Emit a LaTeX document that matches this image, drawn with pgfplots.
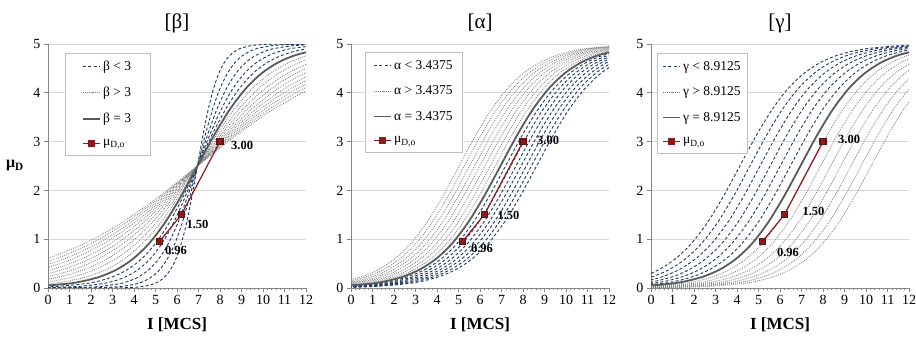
\documentclass[border=0pt]{standalone}
\usepackage{fontspec}
\setmainfont{Liberation Serif}
\usepackage{pgfplots}
\pgfplotsset{compat=1.18}
\definecolor{navy}{HTML}{1F3864}
\definecolor{dotgray}{HTML}{7F7F7F}
\definecolor{solgray}{HTML}{5A5A5A}
\definecolor{dred}{HTML}{8B1A1A}
\definecolor{gridgray}{HTML}{D9D9D9}
\definecolor{axgray}{HTML}{868686}
\definecolor{leggray}{HTML}{BFBFBF}
\pgfplotsset{
 base/.style={
  scale only axis, width=258pt, height=244pt,
  xmin=0,xmax=12,ymin=0,ymax=5,
  axis x line*=bottom, axis y line*=left,
  x axis line style={-}, y axis line style={-},
  axis line style={draw=axgray, line width=0.8pt},
  xtick={0,1,...,12}, ytick={0,1,...,5},
  minor x tick num=4,
  tick align=outside, major tick length=4pt, minor tick length=2.5pt,
  tick style={draw=axgray, line width=0.6pt},
  ymajorgrids, major grid style={draw=gridgray, line width=0.8pt},
  tick label style={font=\fontsize{14}{16}\selectfont},
  /pgf/number format/assume math mode=true,
  title style={at={(0.5,1)}, anchor=center, yshift=15pt, font=\fontsize{21}{24}\selectfont},
  xlabel={\textbf{I [MCS]}},
  xlabel style={at={(0.5,0)}, anchor=center, yshift=-37pt, font=\fontsize{17}{20}\selectfont},
  legend cell align=left,
  legend style={anchor=north west, draw=leggray, line width=0.6pt, font=\fontsize{13.5}{15}\selectfont, row sep=11pt, inner xsep=8pt, inner ysep=6pt},
 },
 dsh/.style={forget plot, smooth, no markers, color=navy, line width=0.9pt, dash pattern=on 3pt off 2.2pt},
 dt/.style={forget plot, smooth, no markers, color=dotgray, line width=0.9pt, dash pattern=on 0.8pt off 1.2pt},
 sol/.style={forget plot, smooth, no markers, color=solgray, line width=1.8pt},
 obs/.style={forget plot, sharp plot, color=dred, line width=1.2pt, mark=square*, mark size=3pt, mark options={fill=dred, draw=dred!70!black, solid}},
}
\tikzset{lab/.style={font=\bfseries\fontsize{12.5}{14}\selectfont, inner sep=0pt, anchor=west}}
\begin{document}
\begin{tikzpicture}[x=1pt,y=1pt]
\useasboundingbox (0,0) rectangle (916,337);
% ===================== Panel beta =====================
\begin{axis}[base, at={(48pt,49pt)}, anchor=south west, title={[β]},
  ylabel={\textbf{μ\textsubscript{D}}},
  ylabel style={at={(axis description cs:-0.128,0.5)}, anchor=center, rotate=-90, font=\fontsize{16}{18}\selectfont},
  legend style={at={(0.066,0.963)}, inner xsep=17pt}]
\addlegendimage{color=navy, line width=0.9pt, dash pattern=on 3pt off 2.2pt}
\addlegendentry{β < 3}
\addlegendimage{color=dotgray, line width=0.9pt, dash pattern=on 0.8pt off 1.2pt}
\addlegendentry{β > 3}
\addlegendimage{color=solgray, line width=1.8pt}
\addlegendentry{β = 3}
\addlegendimage{color=dred, line width=1.2pt, mark=square*, mark size=3pt, mark options={fill=dred}}
\addlegendentry{μ\textsubscript{D,o}}
% dotted beta > 3
\addplot[dt] coordinates {(-1.55,0.033)(0.15,0.090)(1.0,0.147)(1.85,0.237)(2.7,0.379)(3.55,0.596)(4.4,0.912)(5.25,1.345)(6.1,1.888)(6.95,2.5)(7.8,3.112)(8.65,3.655)(9.5,4.088)(10.35,4.404)(11.2,4.621)(12.05,4.763)};
\addplot[dt] coordinates {(-0.65,0.090)(0.3,0.147)(1.25,0.237)(2.2,0.379)(3.15,0.596)(4.1,0.912)(5.05,1.345)(6.0,1.888)(6.95,2.5)(7.9,3.112)(8.85,3.655)(9.8,4.088)(10.75,4.404)(11.7,4.621)(12.65,4.763)};
\addplot[dt] coordinates {(-0.4,0.147)(0.65,0.237)(1.7,0.379)(2.75,0.596)(3.8,0.912)(4.85,1.345)(5.9,1.888)(6.95,2.5)(8.0,3.112)(9.05,3.655)(10.1,4.088)(11.15,4.404)(12.2,4.621)};
\addplot[dt] coordinates {(-1.1,0.147)(0.05,0.237)(1.2,0.379)(2.35,0.596)(3.5,0.912)(4.65,1.345)(5.8,1.888)(6.95,2.5)(8.1,3.112)(9.25,3.655)(10.4,4.088)(11.55,4.404)(12.7,4.621)};
\addplot[dt] coordinates {(-0.55,0.237)(0.7,0.379)(1.95,0.596)(3.2,0.912)(4.45,1.345)(5.7,1.888)(6.95,2.5)(8.2,3.112)(9.45,3.655)(10.7,4.088)(11.95,4.404)(13.2,4.621)};
\addplot[dt] coordinates {(-1.15,0.237)(0.2,0.379)(1.55,0.596)(2.9,0.912)(4.25,1.345)(5.6,1.888)(6.95,2.5)(8.3,3.112)(9.65,3.655)(11.0,4.088)(12.35,4.404)};
\addplot[dt] coordinates {(-0.3,0.379)(1.15,0.596)(2.6,0.912)(4.05,1.345)(5.5,1.888)(6.95,2.5)(8.4,3.112)(9.85,3.655)(11.3,4.088)(12.75,4.404)};
\addplot[dt] coordinates {(-0.8,0.379)(0.75,0.596)(2.3,0.912)(3.85,1.345)(5.4,1.888)(6.95,2.5)(8.5,3.112)(10.05,3.655)(11.6,4.088)(13.15,4.404)};
\addplot[dt] coordinates {(-1.3,0.379)(0.35,0.596)(2.0,0.912)(3.65,1.345)(5.3,1.888)(6.95,2.5)(8.6,3.112)(10.25,3.655)(11.9,4.088)(13.55,4.404)};
\addplot[dt] coordinates {(-0.05,0.596)(1.7,0.912)(3.45,1.345)(5.2,1.888)(6.95,2.5)(8.7,3.112)(10.45,3.655)(12.2,4.088)};
% dashed beta < 3
\addplot[dsh] coordinates {(-0.05,0)(1.95,0)(2.95,0.002)(3.45,0.005)(3.95,0.012)(4.45,0.033)(4.95,0.090)(5.2,0.147)(5.45,0.237)(5.7,0.379)(5.95,0.596)(6.2,0.912)(6.45,1.345)(6.7,1.888)(6.95,2.5)(7.2,3.112)(7.45,3.655)(7.7,4.088)(7.95,4.404)(8.2,4.621)(8.45,4.763)(8.7,4.853)(8.95,4.910)(9.45,4.967)(9.95,4.988)(10.45,4.995)(10.95,4.998)(11.95,5.0)(13.95,5.0)};
\addplot[dsh] coordinates {(-0.05,0)(1.35,0.002)(2.05,0.005)(2.75,0.012)(3.45,0.033)(4.15,0.090)(4.5,0.147)(4.85,0.237)(5.2,0.379)(5.55,0.596)(5.9,0.912)(6.25,1.345)(6.6,1.888)(6.95,2.5)(7.3,3.112)(7.65,3.655)(8.0,4.088)(8.35,4.404)(8.7,4.621)(9.05,4.763)(9.4,4.853)(9.75,4.910)(10.45,4.967)(11.15,4.988)(11.85,4.995)(12.55,4.998)};
\addplot[dsh] coordinates {(-0.25,0.002)(0.65,0.005)(1.55,0.012)(2.45,0.033)(3.35,0.090)(3.8,0.147)(4.25,0.237)(4.7,0.379)(5.15,0.596)(5.6,0.912)(6.05,1.345)(6.5,1.888)(6.95,2.5)(7.4,3.112)(7.85,3.655)(8.3,4.088)(8.75,4.404)(9.2,4.621)(9.65,4.763)(10.1,4.853)(10.55,4.910)(11.45,4.967)(12.35,4.988)};
\addplot[dsh] coordinates {(-0.75,0.005)(0.35,0.012)(1.45,0.033)(2.55,0.090)(3.1,0.147)(3.65,0.237)(4.2,0.379)(4.75,0.596)(5.3,0.912)(5.85,1.345)(6.4,1.888)(6.95,2.5)(7.5,3.112)(8.05,3.655)(8.6,4.088)(9.15,4.404)(9.7,4.621)(10.25,4.763)(10.8,4.853)(11.35,4.910)(12.45,4.967)};
\addplot[dsh] coordinates {(-0.85,0.012)(0.45,0.033)(1.75,0.090)(2.4,0.147)(3.05,0.237)(3.7,0.379)(4.35,0.596)(5.0,0.912)(5.65,1.345)(6.3,1.888)(6.95,2.5)(7.6,3.112)(8.25,3.655)(8.9,4.088)(9.55,4.404)(10.2,4.621)(10.85,4.763)(11.5,4.853)(12.15,4.910)};
% solid
\addplot[sol] coordinates {(-0.55,0.033)(0.95,0.090)(1.7,0.147)(2.45,0.237)(3.2,0.379)(3.95,0.596)(4.7,0.912)(5.45,1.345)(6.2,1.888)(6.95,2.5)(7.7,3.112)(8.45,3.655)(9.2,4.088)(9.95,4.404)(10.7,4.621)(11.45,4.763)(12.2,4.853)};
\addplot[obs] coordinates {(5.2,0.96)(6.2,1.50)(8,3.00)};
\node[lab, xshift=5pt, yshift=-9pt] at (axis cs:5.2,0.96) {0.96};
\node[lab, xshift=5pt, yshift=-10pt] at (axis cs:6.2,1.50) {1.50};
\node[lab, xshift=11pt, yshift=-4pt] at (axis cs:8,3.00) {3.00};
\end{axis}
% ===================== Panel alpha =====================
\begin{axis}[base, at={(351pt,49pt)}, anchor=south west, title={[α]},
  legend style={at={(0.054,0.967)}}]
\addlegendimage{color=navy, line width=0.9pt, dash pattern=on 3pt off 2.2pt}
\addlegendentry{α < 3.4375}
\addlegendimage{color=dotgray, line width=0.9pt, dash pattern=on 0.8pt off 1.2pt}
\addlegendentry{α > 3.4375}
\addlegendimage{color=solgray, line width=1.8pt}
\addlegendentry{α = 3.4375}
\addlegendimage{color=dred, line width=1.2pt, mark=square*, mark size=3pt, mark options={fill=dred}}
\addlegendentry{μ\textsubscript{D,o}}
\addplot[dt] coordinates {(-0.79,0.033)(0.71,0.090)(1.46,0.147)(2.21,0.237)(2.96,0.379)(3.71,0.596)(4.46,0.912)(5.21,1.345)(5.96,1.888)(6.71,2.5)(7.46,3.112)(8.21,3.655)(8.96,4.088)(9.71,4.404)(10.46,4.621)(11.21,4.763)(11.96,4.853)(12.71,4.910)};
\addplot[dt] coordinates {(-1.03,0.033)(0.47,0.090)(1.22,0.147)(1.97,0.237)(2.72,0.379)(3.47,0.596)(4.22,0.912)(4.97,1.345)(5.72,1.888)(6.47,2.5)(7.22,3.112)(7.97,3.655)(8.72,4.088)(9.47,4.404)(10.22,4.621)(10.97,4.763)(11.72,4.853)(12.47,4.910)};
\addplot[dt] coordinates {(-1.27,0.033)(0.23,0.090)(0.98,0.147)(1.73,0.237)(2.48,0.379)(3.23,0.596)(3.98,0.912)(4.73,1.345)(5.48,1.888)(6.23,2.5)(6.98,3.112)(7.73,3.655)(8.48,4.088)(9.23,4.404)(9.98,4.621)(10.73,4.763)(11.48,4.853)(12.23,4.910)};
\addplot[dt] coordinates {(-1.51,0.033)(-0.01,0.090)(0.74,0.147)(1.49,0.237)(2.24,0.379)(2.99,0.596)(3.74,0.912)(4.49,1.345)(5.24,1.888)(5.99,2.5)(6.74,3.112)(7.49,3.655)(8.24,4.088)(8.99,4.404)(9.74,4.621)(10.49,4.763)(11.24,4.853)(11.99,4.910)(13.49,4.967)};
\addplot[dt] coordinates {(-1.75,0.033)(-0.25,0.090)(0.5,0.147)(1.25,0.237)(2.0,0.379)(2.75,0.596)(3.5,0.912)(4.25,1.345)(5.0,1.888)(5.75,2.5)(6.5,3.112)(7.25,3.655)(8.0,4.088)(8.75,4.404)(9.5,4.621)(10.25,4.763)(11.0,4.853)(11.75,4.910)(13.25,4.967)};
\addplot[dt] coordinates {(-1.99,0.033)(-0.49,0.090)(0.26,0.147)(1.01,0.237)(1.76,0.379)(2.51,0.596)(3.26,0.912)(4.01,1.345)(4.76,1.888)(5.51,2.5)(6.26,3.112)(7.01,3.655)(7.76,4.088)(8.51,4.404)(9.26,4.621)(10.01,4.763)(10.76,4.853)(11.51,4.910)(13.01,4.967)};
\addplot[dt] coordinates {(-2.23,0.033)(-0.73,0.090)(0.02,0.147)(0.77,0.237)(1.52,0.379)(2.27,0.596)(3.02,0.912)(3.77,1.345)(4.52,1.888)(5.27,2.5)(6.02,3.112)(6.77,3.655)(7.52,4.088)(8.27,4.404)(9.02,4.621)(9.77,4.763)(10.52,4.853)(11.27,4.910)(12.77,4.967)};
\addplot[dt] coordinates {(-2.47,0.033)(-0.97,0.090)(-0.22,0.147)(0.53,0.237)(1.28,0.379)(2.03,0.596)(2.78,0.912)(3.53,1.345)(4.28,1.888)(5.03,2.5)(5.78,3.112)(6.53,3.655)(7.28,4.088)(8.03,4.404)(8.78,4.621)(9.53,4.763)(10.28,4.853)(11.03,4.910)(12.53,4.967)};
\addplot[dsh] coordinates {(-1.81,0.012)(-0.31,0.033)(1.19,0.090)(1.94,0.147)(2.69,0.237)(3.44,0.379)(4.19,0.596)(4.94,0.912)(5.69,1.345)(6.44,1.888)(7.19,2.5)(7.94,3.112)(8.69,3.655)(9.44,4.088)(10.19,4.404)(10.94,4.621)(11.69,4.763)(12.44,4.853)};
\addplot[dsh] coordinates {(-1.57,0.012)(-0.07,0.033)(1.43,0.090)(2.18,0.147)(2.93,0.237)(3.68,0.379)(4.43,0.596)(5.18,0.912)(5.93,1.345)(6.68,1.888)(7.43,2.5)(8.18,3.112)(8.93,3.655)(9.68,4.088)(10.43,4.404)(11.18,4.621)(11.93,4.763)(12.68,4.853)};
\addplot[dsh] coordinates {(-1.33,0.012)(0.17,0.033)(1.67,0.090)(2.42,0.147)(3.17,0.237)(3.92,0.379)(4.67,0.596)(5.42,0.912)(6.17,1.345)(6.92,1.888)(7.67,2.5)(8.42,3.112)(9.17,3.655)(9.92,4.088)(10.67,4.404)(11.42,4.621)(12.17,4.763)};
\addplot[dsh] coordinates {(-1.09,0.012)(0.41,0.033)(1.91,0.090)(2.66,0.147)(3.41,0.237)(4.16,0.379)(4.91,0.596)(5.66,0.912)(6.41,1.345)(7.16,1.888)(7.91,2.5)(8.66,3.112)(9.41,3.655)(10.16,4.088)(10.91,4.404)(11.66,4.621)(12.41,4.763)};
\addplot[dsh] coordinates {(-0.85,0.012)(0.65,0.033)(2.15,0.090)(2.9,0.147)(3.65,0.237)(4.4,0.379)(5.15,0.596)(5.9,0.912)(6.65,1.345)(7.4,1.888)(8.15,2.5)(8.9,3.112)(9.65,3.655)(10.4,4.088)(11.15,4.404)(11.9,4.621)(12.65,4.763)};
\addplot[dsh] coordinates {(-0.61,0.012)(0.89,0.033)(2.39,0.090)(3.14,0.147)(3.89,0.237)(4.64,0.379)(5.39,0.596)(6.14,0.912)(6.89,1.345)(7.64,1.888)(8.39,2.5)(9.14,3.112)(9.89,3.655)(10.64,4.088)(11.39,4.404)(12.14,4.621)};
\addplot[dsh] coordinates {(-0.37,0.012)(1.13,0.033)(2.63,0.090)(3.38,0.147)(4.13,0.237)(4.88,0.379)(5.63,0.596)(6.38,0.912)(7.13,1.345)(7.88,1.888)(8.63,2.5)(9.38,3.112)(10.13,3.655)(10.88,4.088)(11.63,4.404)(12.38,4.621)};
\addplot[sol] coordinates {(-0.55,0.033)(0.95,0.090)(1.7,0.147)(2.45,0.237)(3.2,0.379)(3.95,0.596)(4.7,0.912)(5.45,1.345)(6.2,1.888)(6.95,2.5)(7.7,3.112)(8.45,3.655)(9.2,4.088)(9.95,4.404)(10.7,4.621)(11.45,4.763)(12.2,4.853)};
\addplot[obs] coordinates {(5.2,0.96)(6.2,1.50)(8,3.00)};
\node[lab, xshift=8pt, yshift=-7pt] at (axis cs:5.2,0.96) {0.96};
\node[lab, xshift=13pt, yshift=-1pt] at (axis cs:6.2,1.50) {1.50};
\node[lab, xshift=14pt, yshift=1pt] at (axis cs:8,3.00) {3.00};
\end{axis}
% ===================== Panel gamma =====================
\begin{axis}[base, at={(651pt,49pt)}, anchor=south west, title={[γ]},
  legend style={at={(0.023,0.963)}, inner xsep=5pt}]
\addlegendimage{color=navy, line width=0.9pt, dash pattern=on 3pt off 2.2pt}
\addlegendentry{γ < 8.9125}
\addlegendimage{color=dotgray, line width=0.9pt, dash pattern=on 0.8pt off 1.2pt}
\addlegendentry{γ > 8.9125}
\addlegendimage{color=solgray, line width=1.8pt}
\addlegendentry{γ = 8.9125}
\addlegendimage{color=dred, line width=1.2pt, mark=square*, mark size=3pt, mark options={fill=dred}}
\addlegendentry{μ\textsubscript{D,o}}
\addplot[dt] coordinates {(-1.58,0.012)(-0.08,0.033)(1.42,0.090)(2.17,0.147)(2.92,0.237)(3.67,0.379)(4.42,0.596)(5.17,0.912)(5.92,1.345)(6.67,1.888)(7.42,2.5)(8.17,3.112)(8.92,3.655)(9.67,4.088)(10.42,4.404)(11.17,4.621)(11.92,4.763)(12.67,4.853)};
\addplot[dt] coordinates {(-1.11,0.012)(0.39,0.033)(1.89,0.090)(2.64,0.147)(3.39,0.237)(4.14,0.379)(4.89,0.596)(5.64,0.912)(6.39,1.345)(7.14,1.888)(7.89,2.5)(8.64,3.112)(9.39,3.655)(10.14,4.088)(10.89,4.404)(11.64,4.621)(12.39,4.763)};
\addplot[dt] coordinates {(-0.64,0.012)(0.86,0.033)(2.36,0.090)(3.11,0.147)(3.86,0.237)(4.61,0.379)(5.36,0.596)(6.11,0.912)(6.86,1.345)(7.61,1.888)(8.36,2.5)(9.11,3.112)(9.86,3.655)(10.61,4.088)(11.36,4.404)(12.11,4.621)};
\addplot[dt] coordinates {(-0.17,0.012)(1.33,0.033)(2.83,0.090)(3.58,0.147)(4.33,0.237)(5.08,0.379)(5.83,0.596)(6.58,0.912)(7.33,1.345)(8.08,1.888)(8.83,2.5)(9.58,3.112)(10.33,3.655)(11.08,4.088)(11.83,4.404)(12.58,4.621)};
\addplot[dt] coordinates {(-1.2,0.005)(0.3,0.012)(1.8,0.033)(3.3,0.090)(4.05,0.147)(4.8,0.237)(5.55,0.379)(6.3,0.596)(7.05,0.912)(7.8,1.345)(8.55,1.888)(9.3,2.5)(10.05,3.112)(10.8,3.655)(11.55,4.088)(12.3,4.404)};
\addplot[dt] coordinates {(-0.73,0.005)(0.77,0.012)(2.27,0.033)(3.77,0.090)(4.52,0.147)(5.27,0.237)(6.02,0.379)(6.77,0.596)(7.52,0.912)(8.27,1.345)(9.02,1.888)(9.77,2.5)(10.52,3.112)(11.27,3.655)(12.02,4.088)};
\addplot[dt] coordinates {(-0.26,0.005)(1.24,0.012)(2.74,0.033)(4.24,0.090)(4.99,0.147)(5.74,0.237)(6.49,0.379)(7.24,0.596)(7.99,0.912)(8.74,1.345)(9.49,1.888)(10.24,2.5)(10.99,3.112)(11.74,3.655)(12.49,4.088)};
\addplot[dsh] coordinates {(-1.02,0.033)(0.48,0.090)(1.23,0.147)(1.98,0.237)(2.73,0.379)(3.48,0.596)(4.23,0.912)(4.98,1.345)(5.73,1.888)(6.48,2.5)(7.23,3.112)(7.98,3.655)(8.73,4.088)(9.48,4.404)(10.23,4.621)(10.98,4.763)(11.73,4.853)(12.48,4.910)};
\addplot[dsh] coordinates {(-1.49,0.033)(0.01,0.090)(0.76,0.147)(1.51,0.237)(2.26,0.379)(3.01,0.596)(3.76,0.912)(4.51,1.345)(5.26,1.888)(6.01,2.5)(6.76,3.112)(7.51,3.655)(8.26,4.088)(9.01,4.404)(9.76,4.621)(10.51,4.763)(11.26,4.853)(12.01,4.910)};
\addplot[dsh] coordinates {(-1.96,0.033)(-0.46,0.090)(0.29,0.147)(1.04,0.237)(1.79,0.379)(2.54,0.596)(3.29,0.912)(4.04,1.345)(4.79,1.888)(5.54,2.5)(6.29,3.112)(7.04,3.655)(7.79,4.088)(8.54,4.404)(9.29,4.621)(10.04,4.763)(10.79,4.853)(11.54,4.910)(13.04,4.967)};
\addplot[dsh] coordinates {(-2.43,0.033)(-0.93,0.090)(-0.18,0.147)(0.57,0.237)(1.32,0.379)(2.07,0.596)(2.82,0.912)(3.57,1.345)(4.32,1.888)(5.07,2.5)(5.82,3.112)(6.57,3.655)(7.32,4.088)(8.07,4.404)(8.82,4.621)(9.57,4.763)(10.32,4.853)(11.07,4.910)(12.57,4.967)};
\addplot[dsh] coordinates {(-1.4,0.090)(-0.65,0.147)(0.1,0.237)(0.85,0.379)(1.6,0.596)(2.35,0.912)(3.1,1.345)(3.85,1.888)(4.6,2.5)(5.35,3.112)(6.1,3.655)(6.85,4.088)(7.6,4.404)(8.35,4.621)(9.1,4.763)(9.85,4.853)(10.6,4.910)(12.1,4.967)};
\addplot[dsh] coordinates {(-1.87,0.090)(-1.12,0.147)(-0.37,0.237)(0.38,0.379)(1.13,0.596)(1.88,0.912)(2.63,1.345)(3.38,1.888)(4.13,2.5)(4.88,3.112)(5.63,3.655)(6.38,4.088)(7.13,4.404)(7.88,4.621)(8.63,4.763)(9.38,4.853)(10.13,4.910)(11.63,4.967)(13.13,4.988)};
\addplot[sol] coordinates {(-0.55,0.033)(0.95,0.090)(1.7,0.147)(2.45,0.237)(3.2,0.379)(3.95,0.596)(4.7,0.912)(5.45,1.345)(6.2,1.888)(6.95,2.5)(7.7,3.112)(8.45,3.655)(9.2,4.088)(9.95,4.404)(10.7,4.621)(11.45,4.763)(12.2,4.853)};
\addplot[obs] coordinates {(5.2,0.96)(6.2,1.50)(8,3.00)};
\node[lab, xshift=14pt, yshift=-11pt] at (axis cs:5.2,0.96) {0.96};
\node[lab, xshift=18pt, yshift=3pt] at (axis cs:6.2,1.50) {1.50};
\node[lab, xshift=15pt, yshift=2pt] at (axis cs:8,3.00) {3.00};
\end{axis}
\end{tikzpicture}
\end{document}
